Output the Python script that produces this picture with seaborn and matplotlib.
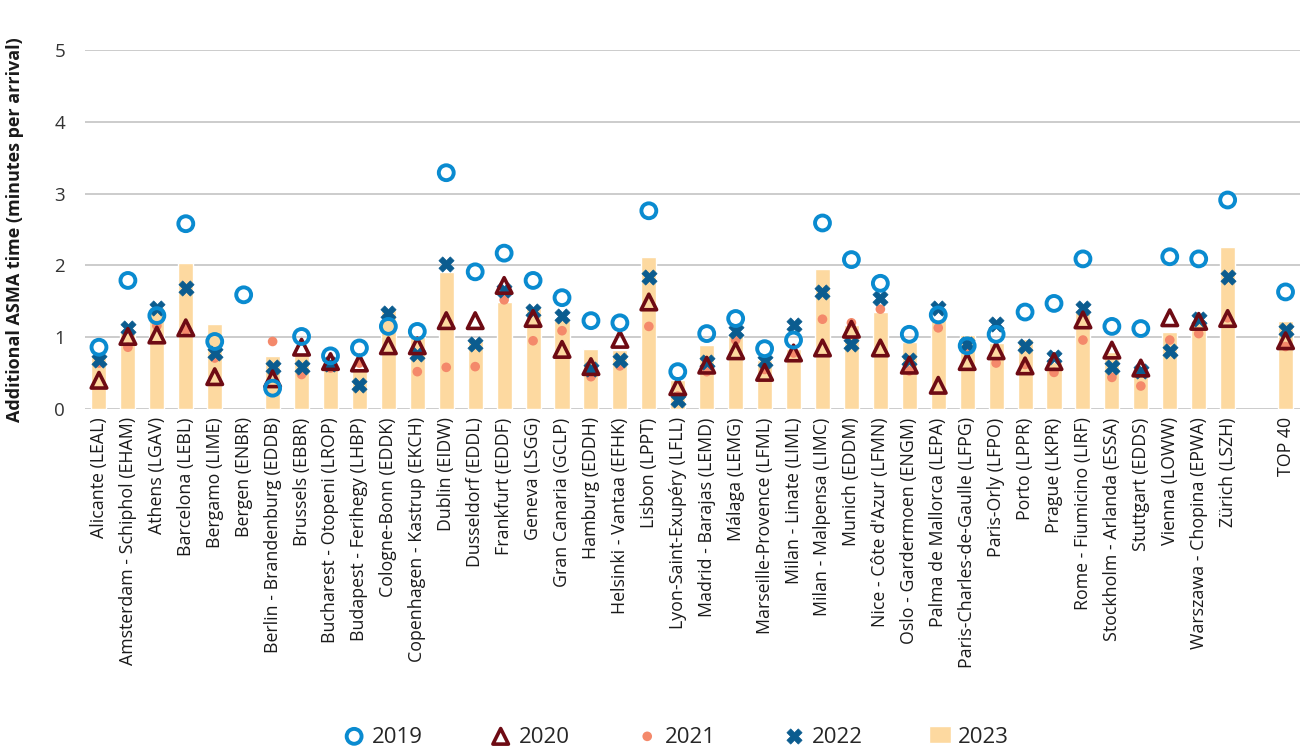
import matplotlib
matplotlib.use("Agg")
import matplotlib.pyplot as plt
import seaborn as sns
import pandas as pd
import numpy as np

airports = [
    "Alicante (LEAL)", "Amsterdam - Schiphol (EHAM)", "Athens (LGAV)", "Barcelona (LEBL)",
    "Bergamo (LIME)", "Bergen (ENBR)", "Berlin - Brandenburg (EDDB)", "Brussels (EBBR)",
    "Bucharest - Otopeni (LROP)", "Budapest - Ferihegy (LHBP)", "Cologne-Bonn (EDDK)",
    "Copenhagen - Kastrup (EKCH)", "Dublin (EIDW)", "Dusseldorf (EDDL)", "Frankfurt (EDDF)",
    "Geneva (LSGG)", "Gran Canaria (GCLP)", "Hamburg (EDDH)", "Helsinki - Vantaa (EFHK)",
    "Lisbon (LPPT)", "Lyon-Saint-Exupéry (LFLL)", "Madrid - Barajas (LEMD)", "Málaga (LEMG)",
    "Marseille-Provence (LFML)", "Milan - Linate (LIML)", "Milan - Malpensa (LIMC)",
    "Munich (EDDM)", "Nice - Côte d'Azur (LFMN)", "Oslo - Gardermoen (ENGM)",
    "Palma de Mallorca (LEPA)", "Paris-Charles-de-Gaulle (LFPG)", "Paris-Orly (LFPO)",
    "Porto (LPPR)", "Prague (LKPR)", "Rome - Fiumicino (LIRF)", "Stockholm - Arlanda (ESSA)",
    "Stuttgart (EDDS)", "Vienna (LOWW)", "Warszawa - Chopina (EPWA)", "Zürich (LSZH)",
    "TOP 40",
]

nan = np.nan
y2019 = [0.86, 1.79, 1.30, 2.58, 0.94, 1.59, 0.29, 1.01, 0.74, 0.85, 1.15, 1.08, 3.29, 1.91,
         2.17, 1.79, 1.55, 1.23, 1.20, 2.76, 0.52, 1.05, 1.26, 0.84, 0.96, 2.59, 2.08, 1.75,
         1.04, 1.31, 0.88, 1.04, 1.35, 1.47, 2.09, 1.15, 1.12, 2.12, 2.09, 2.91, 1.63]
y2020 = [0.40, 1.01, 1.03, 1.13, 0.45, nan, 0.42, 0.86, 0.66, 0.64, 0.88, 0.88, 1.23, 1.23,
         1.72, 1.26, 0.83, 0.59, 0.97, 1.49, 0.31, 0.61, 0.81, 0.51, 0.78, 0.85, 1.11, 0.85,
         0.61, 0.33, 0.66, 0.81, 0.60, 0.66, 1.24, 0.82, 0.57, 1.27, 1.22, 1.26, 0.95]
y2021 = [0.64, 0.86, 1.16, 1.10, 0.71, nan, 0.94, 0.48, 0.57, 0.64, 1.29, 0.52, 0.58, 0.59,
         1.52, 0.95, 1.09, 0.45, 0.60, 1.15, 0.18, 0.52, 0.96, 0.55, 0.78, 1.25, 1.20, 1.39,
         0.53, 1.13, 0.85, 0.64, 0.62, 0.51, 0.96, 0.44, 0.32, 0.96, 1.05, 1.27, 0.87]
y2022 = [0.68, 1.13, 1.40, 1.69, 0.78, nan, 0.59, 0.58, 0.62, 0.33, 1.33, 0.77, 2.02, 0.91,
         1.66, 1.37, 1.29, 0.55, 0.68, 1.84, 0.12, 0.66, 1.08, 0.67, 1.17, 1.63, 0.91, 1.54,
         0.68, 1.40, 0.90, 1.18, 0.88, 0.73, 1.40, 0.59, 0.53, 0.81, 1.26, 1.84, 1.10]
y2023 = [0.75, 1.08, 1.42, 2.03, 1.19, nan, 0.74, 0.75, 0.60, 0.55, 1.38, 1.00, 1.91, 0.95,
         1.49, 1.42, 1.24, 0.83, 0.82, 2.12, 0.40, 0.89, 1.05, 0.68, 0.84, 1.95, 1.17, 1.35,
         0.93, 1.26, 1.03, 0.92, 0.97, 0.66, 1.38, 0.80, 0.50, 1.07, 1.24, 2.26, 1.22]

# one empty slot before the TOP 40 column
positions = list(range(40)) + [41]

df = pd.DataFrame({"airport": airports, "pos": positions,
                   "2019": y2019, "2020": y2020, "2021": y2021,
                   "2022": y2022, "2023": y2023})

sns.set_theme(style="white")
plt.rcParams["font.family"] = ["Open Sans", "DejaVu Sans"]

fig = plt.figure(figsize=(13, 7.56), dpi=100)
ax = fig.add_axes([0.065, 0.459, 0.935, 0.475])

sns.barplot(data=df, x="pos", y="2023", native_scale=True, width=0.52,
            color="#fdd9a0", saturation=1, ax=ax, zorder=2, label="2023")

sns.scatterplot(data=df, x="pos", y="2021", ax=ax, marker="o", s=48,
                color="#f4896b", edgecolor="none", zorder=3, label="2021")
sns.scatterplot(data=df, x="pos", y="2022", ax=ax, marker="X", s=120,
                color="#0b5c8f", edgecolor="#0b5c8f", linewidth=0.5, zorder=4, label="2022")
sns.scatterplot(data=df, x="pos", y="2020", ax=ax, marker="^", s=125,
                facecolor="none", edgecolor="#6e0b14", linewidth=2.6, zorder=5, label="2020")
sns.scatterplot(data=df, x="pos", y="2019", ax=ax, marker="o", s=115,
                facecolor="none", edgecolor="#0a8bd0", linewidth=2.8, zorder=6, label="2019")

ax.set_xlim(-0.5, 41.5)
ax.set_ylim(0, 5)
ax.set_yticks([0, 1, 2, 3, 4, 5])
ax.yaxis.grid(True, color="#c8c8c8", linewidth=1.3, zorder=0)
ax.set_axisbelow(True)
for side in ["top", "right", "left", "bottom"]:
    ax.spines[side].set_visible(False)

ax.set_xticks(positions)
ax.set_xticklabels(airports, rotation=90, fontsize=12.8, color="#1a1a1a")
ax.tick_params(axis="x", length=0, pad=6)
ax.tick_params(axis="y", length=0, labelsize=13.5, pad=14, labelcolor="#333333")
ax.set_xlabel("")
ax.set_ylabel("Additional ASMA time (minutes per arrival)", fontsize=13,
              fontweight="bold", color="#1a1a1a")
ax.yaxis.set_label_coords(-0.05, 0.5)

handles, labels = ax.get_legend_handles_labels()
order = ["2019", "2020", "2021", "2022", "2023"]
lookup = dict(zip(labels, handles))
if ax.legend_:
    ax.legend_.remove()
fig.legend([lookup[k] for k in order], order, loc="center", bbox_to_anchor=(0.52, 0.025),
           ncol=5, frameon=False, fontsize=16, columnspacing=3.0, handlelength=1.0,
           handletextpad=0.3, handleheight=0.8)

fig.savefig("out.png", dpi=100)
plt.close()
